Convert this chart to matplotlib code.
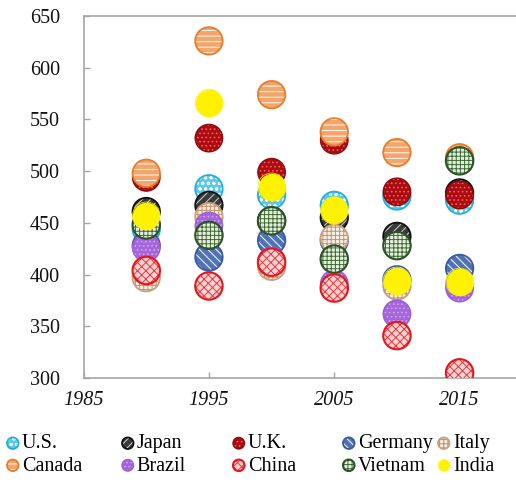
import matplotlib
matplotlib.use('Agg')
import matplotlib.pyplot as plt
from matplotlib.legend_handler import HandlerTuple

# ---------------- data ----------------
years = [1990, 1995, 2000, 2005, 2010, 2015]
countries = ['U.S.', 'Japan', 'U.K.', 'Germany', 'Italy',
             'Canada', 'Brazil', 'China', 'Vietnam', 'India']
us      = [444, 483, 477, 467, 476, 472]
japan   = [461, 467, 452, 455, 437, 479]
uk      = [494, 532, 499, 530, 480, 477]
germany = [428, 417, 433, 433, 395, 406]
italy   = [397, 456, 408, 435, 389, 391]
canada  = [498, 626, 574, 538, 518, 513]
brazil  = [426, 447, 413, 391, 362, 387]
china   = [404, 389, 412, 387, 341, 305]
vietnam = [448, 438, 452, 415, 428, 510]
india   = [457, 566, 485, 462, 394, 393]
series = [us, japan, uk, germany, italy, canada, brazil, china, vietnam, india]
x_ticks = [1985, 1995, 2005, 2015]
y_ticks = [300, 350, 400, 450, 500, 550, 600, 650]

# ---------------- styles ----------------
styles = [
    dict(face='#5CC8EC', hcol='#FFFFFF', hatch='ooo',   edge='#1FAEE0', lw=1.3),  # U.S.
    dict(face='#3A3A3A', hcol='#D0D0D0', hatch='////',  edge='#111111', lw=1.3),  # Japan
    dict(face='#A80D12', hcol='#FF5A5A', hatch='....',  edge='#8A0A0E', lw=1.0),  # U.K.
    dict(face='#4F72B8', hcol='#FFFFFF', hatch='\\\\\\\\', edge='#3A5A9E', lw=1.3),  # Germany
    dict(face='#F7EEE4', hcol='#C0926A', hatch='++++',  edge='#C8A07C', lw=1.3),  # Italy
    dict(face='#F5A46A', hcol='#FFFFFF', hatch='---',   edge='#E87B2C', lw=1.3),  # Canada
    dict(face='#A466DA', hcol='#D2A6F4', hatch='....',  edge='#9A5CD0', lw=1.0),  # Brazil
    dict(face='#FAD2D2', hcol='#E8383E', hatch='xxxx',  edge='#E8141C', lw=1.5),  # China
    dict(face='#E6EEDD', hcol='#3D6A35', hatch='++++',  edge='#2E5228', lw=1.5),  # Vietnam
    dict(face='#FFF200', hcol='#FFF200', hatch=None,    edge='#FFF200', lw=0.5),  # India
]

plt.rcParams['font.family'] = ['Liberation Serif', 'DejaVu Serif']
plt.rcParams['hatch.linewidth'] = 0.7

fig = plt.figure(figsize=(5.16, 4.87), dpi=100)
ax = fig.add_axes([0.162, 0.2238, 0.838, 0.967 - 0.2238])

S = 390
handles = []
for i, (vals, st) in enumerate(zip(series, styles)):
    fill = ax.scatter(years, vals, s=S, facecolors=st['face'], edgecolors=st['hcol'],
                      linewidths=0, hatch=st['hatch'], zorder=3 + i * 0.1)
    out = ax.scatter(years, vals, s=S, facecolors='none', edgecolors=st['edge'],
                     linewidths=st['lw'], zorder=3 + i * 0.1 + 0.05)
    handles.append((fill, out))

ax.set_xlim(1985, 2019.5)
ax.set_ylim(300, 650)
ax.set_xticks(x_ticks)
ax.set_yticks(y_ticks)
ax.set_xticklabels([str(t) for t in x_ticks], fontsize=14.5, style='italic')
ax.set_yticklabels([str(t) for t in y_ticks], fontsize=14.5)

spine_col = '#A6A6A6'
for side in ['left', 'bottom', 'top']:
    ax.spines[side].set_color(spine_col)
    ax.spines[side].set_linewidth(1.2)
ax.spines['right'].set_visible(False)
ax.tick_params(axis='both', direction='in', length=4, width=1, color=spine_col,
               labelcolor='#111111')
ax.tick_params(axis='y', pad=17)
ax.tick_params(axis='x', pad=9)

# legend: 5 columns, each with two entries
col_x = [13, 128, 239, 349, 444]
for j, cx in enumerate(col_x):
    hs = [handles[j], handles[j + 5]]
    labs = [countries[j], countries[j + 5]]
    leg = fig.legend(hs, labs, loc='center left',
                     bbox_to_anchor=((cx - 8.3) / 516, 1 - 455 / 487),
                     frameon=False, handler_map={tuple: HandlerTuple(ndivide=1, pad=0)},
                     markerscale=0.42, handlelength=0.8, handletextpad=0.05,
                     borderpad=0, borderaxespad=0, labelspacing=0.15,
                     prop={'family': ['Liberation Serif'], 'size': 14.5})
    for h, k in zip(leg.legend_handles, [j, j + 5]):
        try:
            h.set_edgecolor(styles[k]['hcol'])
            h.set_linewidth(0)
        except Exception:
            pass

fig.savefig('out.png', dpi=100)
